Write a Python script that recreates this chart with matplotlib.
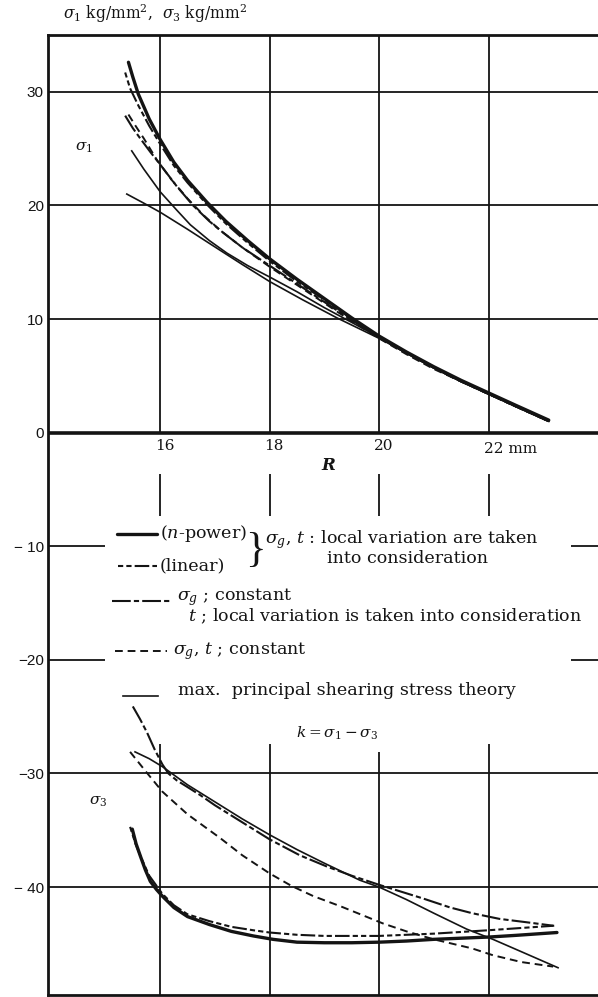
import matplotlib.pyplot as plt
from matplotlib.lines import Line2D

plt.rcParams['font.family'] = ['DejaVu Serif']
plt.rcParams['mathtext.fontset'] = 'dejavuserif'

# ---- sigma_1 curves (R in mm, stress in kg/mm^2) ----
r1_npower = [15.42, 15.5, 15.6, 15.8, 16.0, 16.25, 16.5, 16.85, 17.2, 17.6, 18.0, 18.5, 19.0,
             19.5, 20.0, 20.5, 21.0, 21.5, 22.0, 22.5, 23.1]
s1_npower = [32.6, 31.3, 29.8, 27.6, 25.8, 23.8, 22.2, 20.3, 18.6, 16.9, 15.3, 13.5, 11.8,
             10.1, 8.5, 7.1, 5.8, 4.6, 3.5, 2.4, 1.1]

r1_linear = [15.36, 15.45, 15.6, 15.8, 16.0, 16.25, 16.5, 16.85, 17.2, 17.6, 18.0, 18.5, 19.0,
             19.5, 20.0, 20.5, 21.0, 21.5, 22.0, 22.5, 23.1]
s1_linear = [31.7, 30.3, 28.8, 27.0, 25.4, 23.5, 22.0, 20.1, 18.4, 16.7, 15.1, 13.3, 11.7,
             10.0, 8.4, 7.0, 5.7, 4.5, 3.4, 2.3, 1.0]

r1_sg_const = [15.36, 15.5, 15.65, 15.82, 16.0, 16.3, 16.6, 16.9, 17.15, 17.5, 18.0, 18.5, 19.0,
               19.5, 20.0, 20.5, 21.0, 21.5, 22.0, 22.5, 23.1]
s1_sg_const = [27.9, 26.8, 25.8, 24.7, 23.6, 21.7, 20.0, 18.6, 17.6, 16.3, 14.7, 13.1, 11.5,
               9.9, 8.4, 7.0, 5.7, 4.5, 3.4, 2.3, 1.0]

r1_all_const = [15.42, 15.55, 15.7, 15.94, 16.2, 16.5, 16.8, 17.1, 17.5, 18.0, 18.5, 19.0, 19.5,
                20.0, 20.5, 21.0, 21.5, 22.0, 22.5, 23.1]
s1_all_const = [28.0, 27.0, 25.9, 24.0, 22.3, 20.6, 19.1, 17.8, 16.3, 14.6, 13.0, 11.4, 9.8,
                8.3, 6.9, 5.6, 4.5, 3.4, 2.3, 1.0]

r1_maxshear = [15.48, 15.7, 16.0, 16.3, 16.55, 16.9, 17.22, 17.6, 18.0, 18.5, 19.0, 19.5, 20.0,
               20.5, 21.0, 21.5, 22.0, 22.5, 23.1]
s1_maxshear = [24.8, 23.2, 21.2, 19.6, 18.3, 16.9, 15.8, 14.7, 13.7, 12.4, 11.0, 9.7, 8.4,
               7.0, 5.7, 4.5, 3.4, 2.3, 1.0]

r1_maxshear2 = [15.39, 15.7, 16.0, 16.5, 16.95, 17.5, 18.0, 18.6, 19.23, 20.0, 20.5, 21.0, 21.5,
                22.0, 22.5, 23.1]
s1_maxshear2 = [21.0, 20.2, 19.4, 17.9, 16.5, 14.8, 13.3, 11.7, 10.1, 8.3, 7.0, 5.7, 4.5,
                3.4, 2.3, 1.0]

# ---- sigma_3 curves ----
r3_npower = [15.49, 15.56, 15.64, 15.73, 15.82, 15.93, 16.04, 16.25, 16.5, 16.9, 17.3, 17.7,
             18.06, 18.5, 19.0, 19.5, 20.0, 20.5, 21.0, 21.5, 22.0, 22.5, 23.25]
s3_npower = [-34.9, -36.2, -37.3, -38.5, -39.5, -40.2, -40.8, -41.8, -42.6, -43.3, -43.9, -44.3,
             -44.6, -44.85, -44.9, -44.9, -44.85, -44.75, -44.6, -44.5, -44.4, -44.25, -44.0]

r3_linear = [15.45, 15.55, 15.65, 15.8, 16.04, 16.25, 16.5, 16.9, 17.3, 17.7, 18.0, 18.5, 19.0,
             20.0, 21.0, 22.0, 23.2]
s3_linear = [-34.7, -36.2, -37.4, -39.0, -40.6, -41.6, -42.4, -43.0, -43.5, -43.8, -44.0, -44.2,
             -44.3, -44.3, -44.1, -43.8, -43.4]

r3_sg_const = [15.5, 15.63, 15.76, 15.9, 16.04, 16.15, 16.3, 16.5, 16.73, 17.0, 17.4, 18.0, 18.55,
               19.05, 19.5, 20.0, 20.4, 20.8, 21.3, 21.7, 22.2, 22.7, 23.18]
s3_sg_const = [-24.1, -25.2, -26.4, -27.9, -29.2, -30.0, -30.6, -31.2, -31.9, -32.8, -34.0, -35.8,
               -37.2, -38.2, -39.0, -39.8, -40.4, -41.0, -41.8, -42.3, -42.8, -43.1, -43.4]

r3_all_const = [15.45, 15.75, 16.04, 16.5, 17.1, 17.5, 18.0, 18.4, 18.8, 19.3, 20.07, 20.5, 21.0,
                21.7, 22.08, 22.6, 23.18]
s3_all_const = [-28.1, -29.9, -31.6, -33.6, -35.7, -37.2, -38.8, -39.9, -40.8, -41.7, -43.2, -43.9,
                -44.6, -45.4, -46.0, -46.6, -47.0]

r3_maxshear = [15.54, 15.8, 16.04, 16.5, 17.0, 17.5, 18.0, 18.5, 19.0, 19.65, 20.0, 20.5, 21.0,
               21.6, 22.08, 22.7, 23.27]
s3_maxshear = [-28.1, -28.7, -29.4, -31.0, -32.5, -34.0, -35.4, -36.7, -37.9, -39.4, -40.0, -41.1,
               -42.3, -43.7, -44.6, -45.9, -47.1]

# axes / grid values
r_grid = [16, 18, 20, 22]
r_labels = ['16', '18', '20', '22 mm']
y_ticks = [30, 20, 10, 0, -10, -20, -30, -40]
y_labels = ['30', '20', '10', '0', '\u2212 10', '\u221220', '\u221230', '\u2212 40']
lower_vline_top = [-27.4, -27.4, -28.1, -27.4]

W, H = 598, 997
xmin, xmax = 13.95, 24.0
ymin, ymax = -49.5, 35.0
ink = '#141414'

fig = plt.figure(figsize=(W / 100, H / 100), dpi=100)
ax = fig.add_axes([48 / W, 2 / H, 550 / W, 960 / H])
ax.set_xlim(xmin, xmax)
ax.set_ylim(ymin, ymax)


def fp(x, y):
    # pixel position -> figure fraction
    return x / W, 1 - y / H


# grid, broken where the legend sits
gkw = dict(color=ink, lw=1.3, zorder=1)
ax.vlines(r_grid, 0, ymax, **gkw)
ax.vlines(r_grid, lower_vline_top, ymin, **gkw)
ax.vlines(r_grid, -7.3, -3.6, **gkw)
ax.hlines([30, 20, 10, -30, -40], xmin, xmax, **gkw)
ax.hlines([-10, -20], xmin, 15.0, **gkw)
ax.hlines([-10, -20], 23.5, xmax, **gkw)
ax.axhline(0, color=ink, lw=2.6, zorder=1)

sty_npower = dict(color=ink, lw=2.4, solid_capstyle='round')
sty_linear = dict(color=ink, lw=1.5, dashes=(2.5, 1.5, 2.5, 1.5, 7, 1.5))
sty_sg = dict(color=ink, lw=1.5, dashes=(9, 1.5, 2.5, 1.5))
sty_const = dict(color=ink, lw=1.4, dashes=(4, 2.5))
sty_max = dict(color=ink, lw=1.2)

ax.plot(r1_npower, s1_npower, **sty_npower)
ax.plot(r1_linear, s1_linear, **sty_linear)
ax.plot(r1_sg_const, s1_sg_const, **sty_sg)
ax.plot(r1_all_const, s1_all_const, **sty_const)
ax.plot(r1_maxshear, s1_maxshear, **sty_max)
ax.plot(r1_maxshear2, s1_maxshear2, **sty_max)

ax.plot(r3_npower, s3_npower, **sty_npower)
ax.plot(r3_linear, s3_linear, **sty_linear)
ax.plot(r3_sg_const, s3_sg_const, **sty_sg)
ax.plot(r3_all_const, s3_all_const, **sty_const)
ax.plot(r3_maxshear, s3_maxshear, **sty_max)

# spines and ticks
for side in ['left', 'top', 'bottom']:
    ax.spines[side].set_linewidth(2.0)
    ax.spines[side].set_color(ink)
ax.spines['right'].set_visible(False)
ax.set_xticks([])
ax.set_yticks(y_ticks, y_labels)
ax.tick_params(axis='y', length=0, pad=3, labelsize=11, labelcolor=ink)
for lbl in ax.get_yticklabels():
    lbl.set_fontfamily('Liberation Sans')

# R tick labels inside the plot
for r, lab in zip(r_grid, r_labels):
    if lab.endswith('mm'):
        ax.text(r - 0.08, -1.4, lab, ha='left', va='center', fontsize=11, color=ink)
    else:
        ax.text(r + 0.08, -1.2, lab, ha='center', va='center', fontsize=11, color=ink)
fig.text(*fp(328, 465), 'R', ha='center', va='center', fontsize=12,
         fontstyle='italic', fontweight='bold', color=ink)

# annotations
fig.text(*fp(63, 14), r'$\sigma_1$ kg/mm$^2$,  $\sigma_3$ kg/mm$^2$', ha='left', va='center',
         fontsize=11.2, color=ink)
fig.text(*fp(84, 148), r'$\sigma_1$', ha='center', va='center', fontsize=11, color=ink)
fig.text(*fp(98, 802), r'$\sigma_3$', ha='center', va='center', fontsize=11, color=ink)
fig.text(*fp(337, 733), r'$k=\sigma_1-\sigma_3$', ha='center', va='center', fontsize=11, color=ink)


# legend
def key(x0, x1, y, sty):
    (a, b), (c, _) = fp(x0, y), fp(x1, y)
    fig.add_artist(Line2D([a, c], [b, b], transform=fig.transFigure, **sty))


tkw = dict(ha='left', va='center', fontsize=12.6, color=ink)
key(117, 157, 534, sty_npower)
fig.text(*fp(160, 533), r'($n$-power)', **tkw)
key(118, 157, 566, sty_linear)
fig.text(*fp(160, 566), '(linear)', **tkw)
fig.text(*fp(255, 551), '}', ha='center', va='center', fontsize=31,
         family='Liberation Serif', color=ink)
fig.text(*fp(265, 540), r'$\sigma_g$, $t$ : local variation are taken', **tkw)
fig.text(*fp(327, 558), 'into consideration', **tkw)
key(112, 172, 601, sty_sg)
fig.text(*fp(177, 597), r'$\sigma_g$ ; constant', **tkw)
fig.text(*fp(188, 616), r'$t$ ; local variation is taken into consideration', **tkw)
key(115, 167, 651, sty_const)
fig.text(*fp(173, 651), r'$\sigma_g$, $t$ ; constant', **tkw)
key(123, 158, 696, sty_max)
fig.text(*fp(178, 690), 'max.  principal shearing stress theory', **tkw)

fig.savefig('out.png', dpi=100, facecolor='white')
